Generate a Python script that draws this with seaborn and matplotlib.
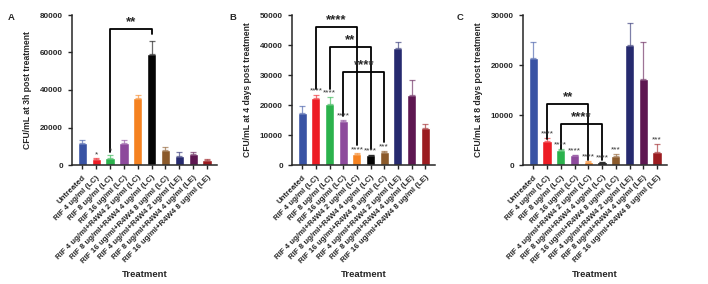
import matplotlib
matplotlib.use("Agg")
import matplotlib.pyplot as plt
import seaborn as sns
import numpy as np

# treatments shared by all three panels
treatments = ["Untreated", "RIF 4 ug/ml (LC)", "RIF 8 ug/ml (LC)", "RIF 16 ug/ml (LC)",
              "RIF 4 ug/ml+R4W4 2 ug/ml (LC)", "RIF 8 ug/ml+R4W4 4 ug/ml (LC)",
              "RIF 16 ug/ml+R4W4 8 ug/ml (LC)", "RIF 4 ug/ml+R4W4 2 ug/ml (LE)",
              "RIF 8 ug/ml+R4W4 4 ug/ml (LE)", "RIF 16 ug/ml+R4W4 8 ug/ml (LE)"]
bar_colors = ["#3953a4", "#ed1c24", "#2bb24c", "#8d4a9c", "#f58220",
              "#050505", "#8b5a2b", "#262a6f", "#5e1751", "#9b1c20"]

# panel A: 3h post treatment
cfu_3h = [11500, 3000, 3900, 11500, 35600, 59400, 7800, 5000, 5700, 2500]
err_3h = [1800, 500, 1400, 1800, 2000, 6900, 1800, 2100, 1000, 500]
stars_3h = ["", "*", "*", "", "", "", "", "", "", ""]

# panel B: 4 days post treatment
cfu_4d = [17200, 22500, 20300, 14700, 3700, 3300, 4400, 39000, 23500, 12500]
err_4d = [2400, 800, 2400, 300, 200, 200, 300, 2100, 4800, 1100]
stars_4d = ["", "****", "****", "****", "****", "****", "***", "", "", ""]

# panel C: 8 days post treatment
cfu_8d = [21400, 4900, 3100, 2000, 670, 530, 1900, 24000, 17200, 2700]
err_8d = [3300, 600, 200, 100, 130, 70, 300, 4400, 7500, 1500]
stars_8d = ["", "****", "****", "****", "****", "****", "***", "", "", "***"]

# comparison brackets: (left bar, right bar, bracket height, left leg end, right leg end, label)
brackets_3h = [(2, 5, 72700, 7100, 70100, "**")]
brackets_4d = [(1, 4, 46000, 25300, 6600, "****"),
               (2, 5, 39400, 25300, 5200, "**"),
               (3, 6, 31000, 16300, 7800, "****")]
brackets_8d = [(1, 4, 12300, 5300, 1000, "**"),
               (2, 5, 8300, 3300, 1000, "****")]

sns.set_style("ticks")
plt.rcParams["font.family"] = ["Liberation Sans", "DejaVu Sans"]
plt.rcParams["font.weight"] = "bold"

fig = plt.figure(figsize=(7.08, 2.84), dpi=100)


def panel(rect, values, errs, stars, brackets, ymax, ystep, ylabel, letter, letter_x):
    ax = fig.add_axes(rect)
    sns.barplot(x=treatments, y=values, hue=treatments, palette=bar_colors,
                legend=False, width=0.67, ax=ax, errorbar=None, saturation=1)
    for i in range(len(values)):
        ax.errorbar(i, values[i], yerr=[[0], [errs[i]]], fmt="none",
                    ecolor=bar_colors[i], alpha=0.6, elinewidth=0.9,
                    capsize=2.2, capthick=0.9)
        if stars[i]:
            ax.text(i, values[i] + errs[i] + ymax * 0.002, stars[i], ha="center",
                    va="bottom", fontsize=6, color="#333333", fontweight="normal")
    for a, b, h, la, lb, lab in brackets:
        ax.plot([a, a, b, b], [la, h, h, lb], color="black", lw=1.3)
        ax.text((a + b) / 2, h + ymax * 0.004, lab, ha="center", va="bottom",
                fontsize=9.5, fontweight="bold")
    ax.set_xlim(-0.75, 9.72)
    ax.set_ylim(0, ymax)
    ax.set_yticks(np.arange(0, ymax + 1, ystep))
    ax.tick_params(axis="y", labelsize=5.8, length=3, width=1)
    ax.tick_params(axis="x", labelsize=5.7, length=3, width=1)
    ax.set_xticks(range(len(treatments)))
    ax.set_xticklabels(treatments, rotation=45, ha="right", rotation_mode="anchor")
    for t in ax.get_yticklabels() + ax.get_xticklabels():
        t.set_fontweight("bold")
    ax.set_ylabel(ylabel, fontsize=6.2, fontweight="bold", labelpad=6)
    ax.set_xlabel("Treatment", fontsize=6.8, fontweight="bold", labelpad=4)
    sns.despine(ax=ax)
    for s in ["left", "bottom"]:
        ax.spines[s].set_linewidth(1.1)
    fig.text(letter_x, 1 - 17 / 284, letter, fontsize=6.8, fontweight="bold",
             ha="left", va="center")
    return ax


bottom = 1 - 165 / 284
height = 150 / 284
panel([72 / 708, bottom, 145 / 708, height], cfu_3h, err_3h, stars_3h, brackets_3h,
      80000, 20000, "CFU/mL at 3h post treatment", "A", 8 / 708)
panel([292 / 708, bottom, 143 / 708, height], cfu_4d, err_4d, stars_4d, brackets_4d,
      50000, 10000, "CFU/mL at 4 days post treatment", "B", 229 / 708)
panel([523 / 708, bottom, 144 / 708, height], cfu_8d, err_8d, stars_8d, brackets_8d,
      30000, 10000, "CFU/mL at 8 days post treatment", "C", 457 / 708)

fig.savefig("out.png", dpi=100)
